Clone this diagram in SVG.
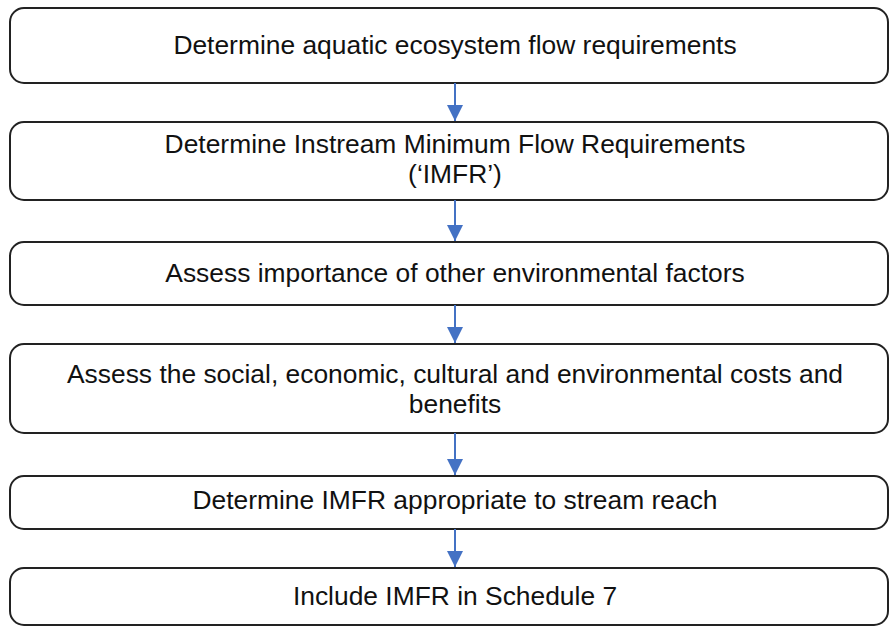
<svg xmlns="http://www.w3.org/2000/svg" width="890" height="626" viewBox="0 0 890 626">
<style>
.box{fill:#fff;stroke:#222;stroke-width:2}
.t{font-family:"Liberation Sans",Arial,sans-serif;font-size:26.4px;fill:#111;text-anchor:middle}
.c{stroke:#4472C4;stroke-width:2;fill:none}
</style>
<defs>
<marker id="ah" viewBox="0 0 16 16" refX="16" refY="8" markerWidth="16" markerHeight="16" markerUnits="userSpaceOnUse" orient="auto">
<path d="M0,0 L16,8 L0,16 z" fill="#4472C4"/>
</marker>
</defs>
<rect width="890" height="626" fill="#fff"/>
<g id="n1"><rect class="box" x="10" y="8" width="878" height="75" rx="14"/><text class="t" x="455" y="54">Determine aquatic ecosystem flow requirements</text></g>
<g id="n2"><rect class="box" x="10" y="122" width="878" height="78" rx="14"/><text class="t" x="455" y="153">Determine Instream Minimum Flow Requirements</text><text class="t" x="455" y="183">(‘IMFR’)</text></g>
<g id="n3"><rect class="box" x="10" y="242" width="878" height="63" rx="14"/><text class="t" x="455" y="282">Assess importance of other environmental factors</text></g>
<g id="n4"><rect class="box" x="10" y="344" width="878" height="89" rx="14"/><text class="t" x="455" y="383">Assess the social, economic, cultural and environmental costs and</text><text class="t" x="455" y="413">benefits</text></g>
<g id="n5"><rect class="box" x="10" y="476" width="878" height="53" rx="14"/><text class="t" x="455" y="509">Determine IMFR appropriate to stream reach</text></g>
<g id="n6"><rect class="box" x="10" y="568" width="878" height="57" rx="14"/><text class="t" x="455" y="605">Include IMFR in Schedule 7</text></g>
<g id="connectors" class="c">
<line x1="455" y1="83" x2="455" y2="121" marker-end="url(#ah)"/>
<line x1="455" y1="200" x2="455" y2="241" marker-end="url(#ah)"/>
<line x1="455" y1="305" x2="455" y2="343" marker-end="url(#ah)"/>
<line x1="455" y1="433" x2="455" y2="475" marker-end="url(#ah)"/>
<line x1="455" y1="529" x2="455" y2="567" marker-end="url(#ah)"/>
</g>
</svg>
